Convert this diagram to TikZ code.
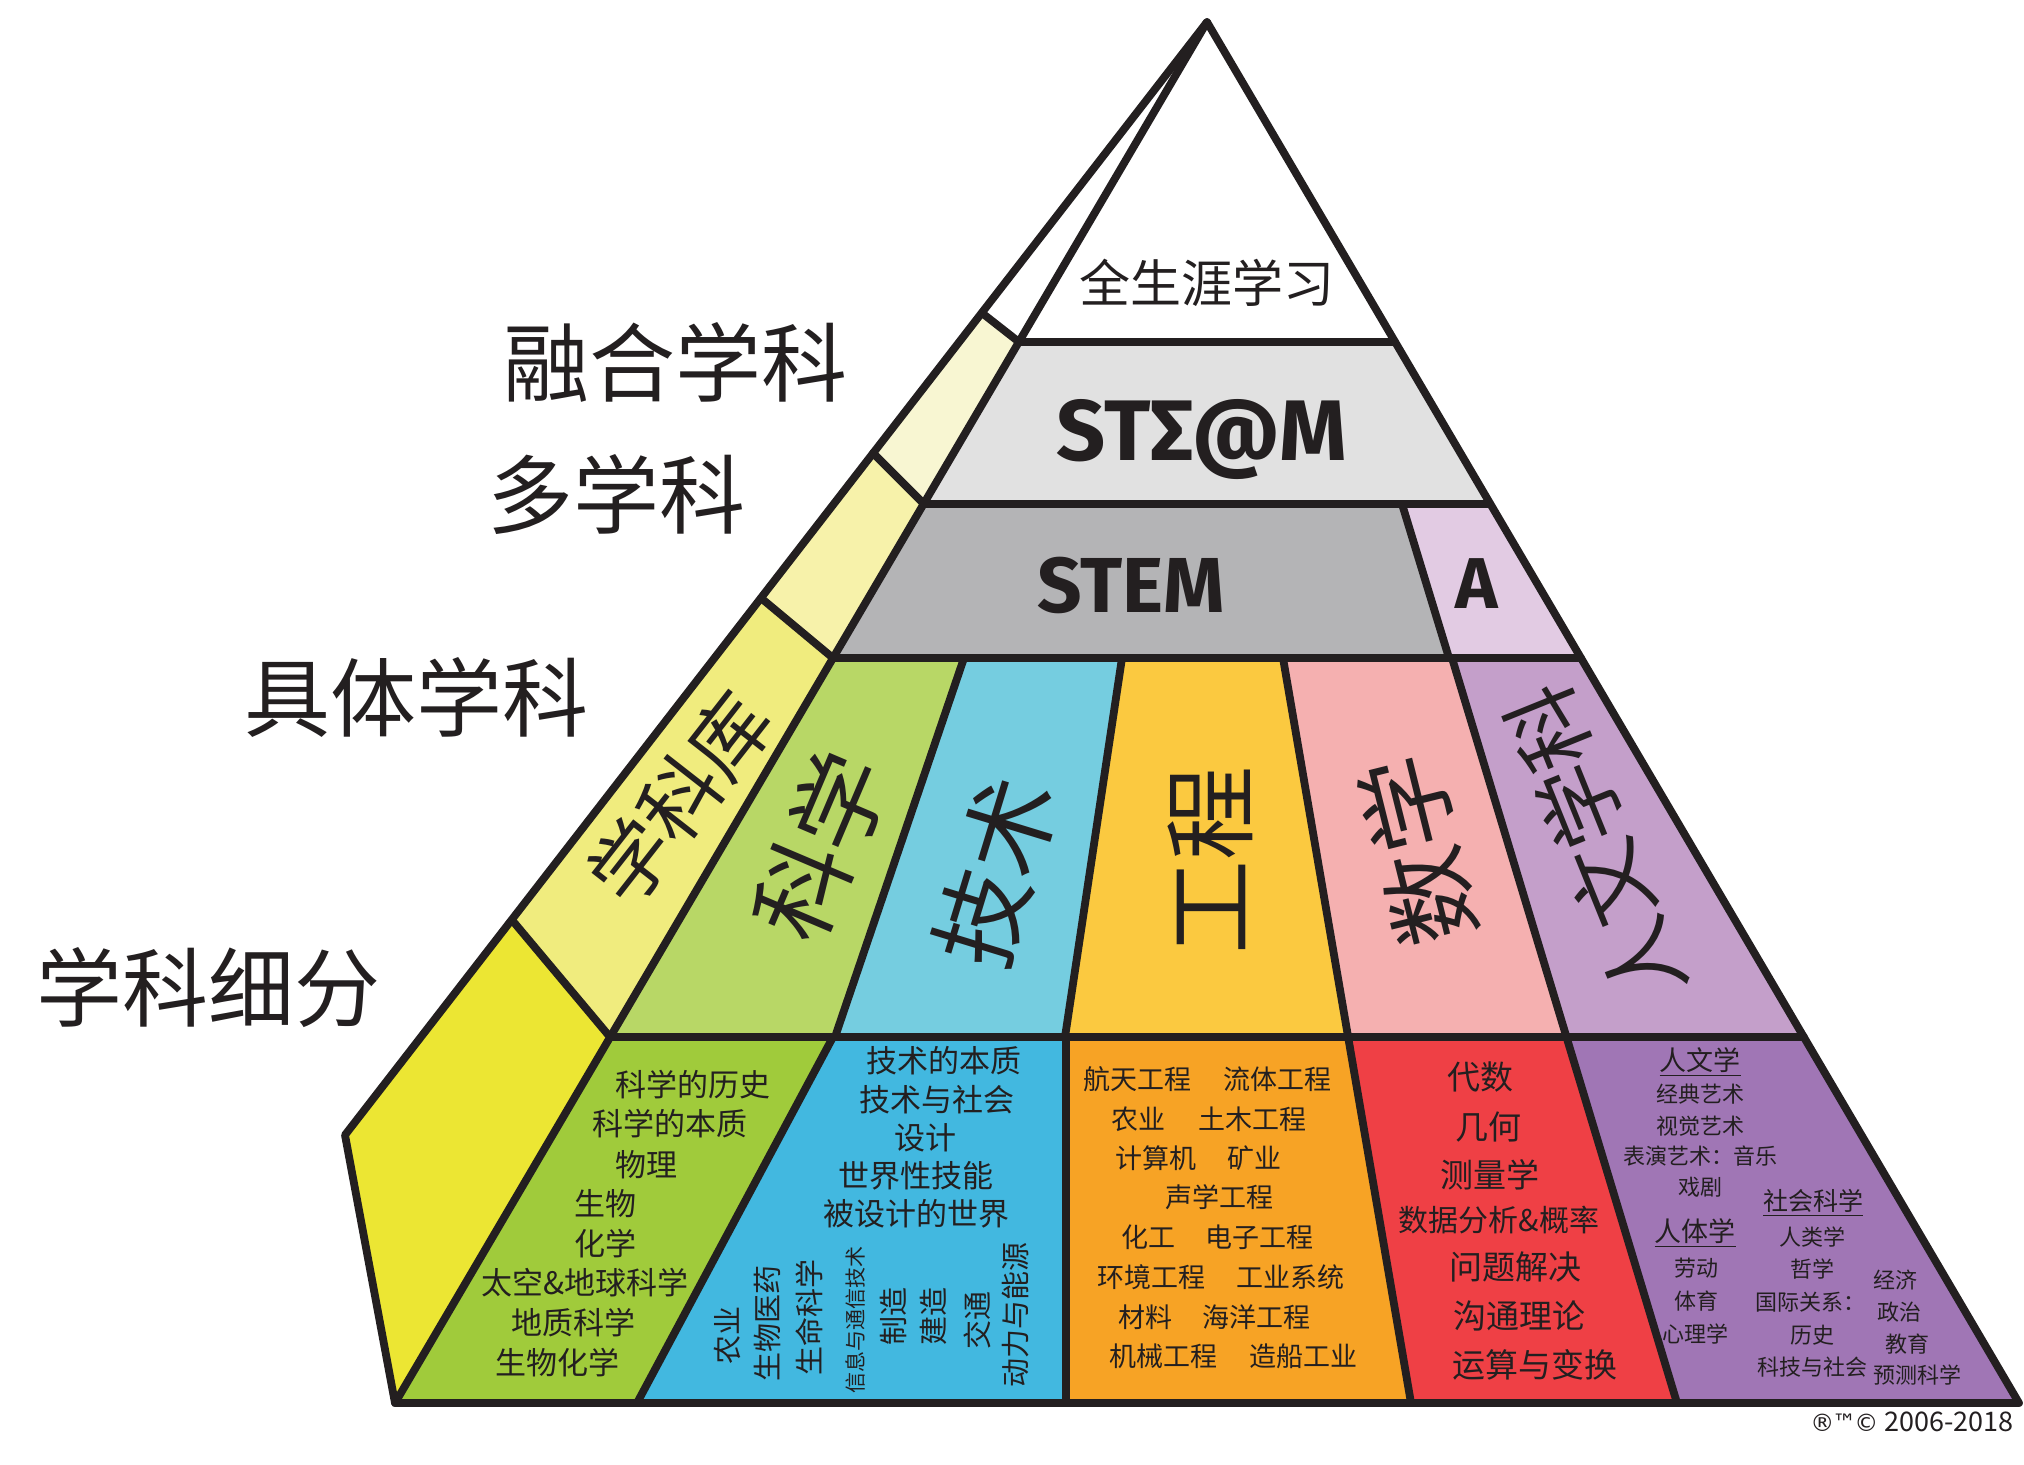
\documentclass[tikz,border=0pt]{standalone}
\usepackage{fontspec}
\setmainfont{Noto Sans CJK SC}
\newfontfamily\stemfont{Fira Sans}
\newfontfamily\symfont{DejaVu Sans}
\newcommand\myfs[1]{\fontsize{#1}{#1}\selectfont}
\definecolor{ink}{HTML}{231F20}
\definecolor{faceA}{HTML}{F8F6D2}
\definecolor{faceB}{HTML}{F7F2AA}
\definecolor{faceC}{HTML}{F0EC7E}
\definecolor{faceD}{HTML}{ECE633}
\definecolor{steamc}{HTML}{E1E1E1}
\definecolor{stemc}{HTML}{B4B4B6}
\definecolor{artc}{HTML}{E2CBE3}
\definecolor{sci}{HTML}{B8D766}
\definecolor{tec}{HTML}{75CDE0}
\definecolor{eng}{HTML}{FBC940}
\definecolor{mat}{HTML}{F5B0B0}
\definecolor{hum}{HTML}{C49FCA}
\definecolor{sciB}{HTML}{A0CB3B}
\definecolor{tecB}{HTML}{42B8E0}
\definecolor{engB}{HTML}{F7A325}
\definecolor{matB}{HTML}{EF4045}
\definecolor{humB}{HTML}{A076B5}
\tikzset{
  edge/.style={draw=ink, line width=3.9pt, line join=round, line cap=round},
  txt/.style={text=ink, inner sep=0pt, align=center},
  biglbl/.style={txt, font=\myfs{43}},
  subj/.style={txt},
  gtxt/.style={txt, font=\myfs{15.5}},
  vtxt/.style={txt, font=\myfs{14.5}, rotate=90},
  otxt/.style={txt, font=\myfs{13.5}},
  rtxt/.style={txt, font=\myfs{16.5}},
  ptxt/.style={txt, font=\myfs{11}},
  phead/.style={txt, font=\myfs{13.5}},
  latin/.style={txt, font=\stemfont\bfseries, anchor=base}
}
\begin{document}
\begin{tikzpicture}[x=0.5pt,y=-0.5pt]
\fill[white] (0,0) rectangle (2024,1464);
\useasboundingbox (0,0) rectangle (2024,1464);

% key points
\coordinate (apex) at (1207,22);
\coordinate (BL) at (395,1403);
\coordinate (BR) at (2019,1403);
\coordinate (LV) at (345,1135);
\coordinate (o1) at (982,313);
\coordinate (o2) at (873,453);
\coordinate (o3) at (761,598);
\coordinate (o4) at (512,920);
\coordinate (i1) at (1019,342);
\coordinate (i2) at (924,504);
\coordinate (i3) at (833,658);
\coordinate (i4) at (610,1037);
\coordinate (r1) at (1395,342);
\coordinate (r2) at (1490,504);
\coordinate (r3) at (1581,658);
\coordinate (r4) at (1804,1037);
\coordinate (a1) at (1402,504);
\coordinate (a2) at (1449,658);
\coordinate (s1t) at (964,658);
\coordinate (s1b) at (835,1037);
\coordinate (s2t) at (1122,658);
\coordinate (s2b) at (1065,1037);
\coordinate (s3t) at (1283,658);
\coordinate (s3b) at (1348,1037);
\coordinate (s4t) at (1452,658);
\coordinate (s4b) at (1566,1037);
\coordinate (b1t) at (833,1037);
\coordinate (b1b) at (637,1403);
\coordinate (b2t) at (1066,1037);
\coordinate (b2b) at (1066,1403);
\coordinate (b3b) at (1411,1403);
\coordinate (b4b) at (1677,1403);

% left face fills
\fill[faceA] (o1) -- (o2) -- (i2) -- (i1) -- cycle;
\fill[faceB] (o2) -- (o3) -- (i3) -- (i2) -- cycle;
\fill[faceC] (o3) -- (o4) -- (i4) -- (i3) -- cycle;
\fill[faceD] (o4) -- (LV) -- (BL) -- (i4) -- cycle;

% front fills
\fill[steamc] (i1) -- (r1) -- (r2) -- (i2) -- cycle;
\fill[stemc] (i2) -- (a1) -- (a2) -- (i3) -- cycle;
\fill[artc] (a1) -- (r2) -- (r3) -- (a2) -- cycle;
\fill[sci] (i3) -- (s1t) -- (s1b) -- (i4) -- cycle;
\fill[tec] (s1t) -- (s2t) -- (s2b) -- (s1b) -- cycle;
\fill[eng] (s2t) -- (s3t) -- (s3b) -- (s2b) -- cycle;
\fill[mat] (s3t) -- (s4t) -- (s4b) -- (s3b) -- cycle;
\fill[hum] (s4t) -- (r3) -- (r4) -- (s4b) -- cycle;
\fill[sciB] (i4) -- (b1t) -- (b1b) -- (BL) -- cycle;
\fill[tecB] (b1t) -- (b2t) -- (b2b) -- (b1b) -- cycle;
\fill[engB] (b2t) -- (s3b) -- (b3b) -- (b2b) -- cycle;
\fill[matB] (s3b) -- (s4b) -- (b4b) -- (b3b) -- cycle;
\fill[humB] (s4b) -- (r4) -- (BR) -- (b4b) -- cycle;

% outlines
\draw[edge] (apex) -- (LV) -- (BL) -- (BR) -- cycle;
\draw[edge] (apex) -- (BL);
\draw[edge] (o1) -- (i1);
\draw[edge] (o2) -- (i2);
\draw[edge] (o3) -- (i3);
\draw[edge] (o4) -- (i4);
\draw[edge] (i1) -- (r1);
\draw[edge] (i2) -- (r2);
\draw[edge] (i3) -- (r3);
\draw[edge] (i4) -- (r4);
\draw[edge] (a1) -- (a2);
\draw[edge] (s1t) -- (s1b);
\draw[edge] (s2t) -- (s2b);
\draw[edge] (s3t) -- (b3b);
\draw[edge] (s4t) -- (b4b);
\draw[edge] (b1t) -- (b1b);
\draw[edge] (b2t) -- (b2b);

% left level labels
\node[biglbl] (lv1) at (675,362) {融合学科};
\node[biglbl] (lv2) at (616,495) {多学科};
\node[biglbl] (lv3) at (416,697) {具体学科};
\node[biglbl] (lv4) at (208,988) {学科细分};

% top layers
\node[txt, font=\myfs{25.5}] (life) at (1207,283) {全生涯学习};
\node[latin, font=\stemfont\bfseries\myfs{43}] (steam) at (1202,460) {STΣ@M};
\node[latin, font=\stemfont\bfseries\myfs{39}] (stem) at (1131,612) {STEM};
\node[latin, font=\stemfont\bfseries\myfs{36}] (art) at (1477,608) {A};

% subject labels
\node[subj, rotate=52, font=\myfs{40}] (kuku) at (680,798) {学科库};
\node[subj, rotate=67, font=\myfs{48}] (kexue) at (820,846) {科学};
\node[subj, rotate=73, font=\myfs{48}] (jishu) at (996,872) {技术};
\node[subj, rotate=90, font=\myfs{47}] (gongcheng) at (1210,860) {工程};
\node[subj, rotate=104, font=\myfs{48}] (shuxue) at (1418,850) {数学};
\node[subj, rotate=112, font=\myfs{42}] (renwen) at (1595,845) {人文学科};

% science details
\node[gtxt] (g1) at (693,1085) {科学的历史};
\node[gtxt] (g2) at (670,1124) {科学的本质};
\node[gtxt] (g3) at (646,1165) {物理};
\node[gtxt] (g4) at (605,1204) {生物};
\node[gtxt] (g5) at (605,1244) {化学};
\node[gtxt] (g6) at (585,1283) {太空\&地球科学};
\node[gtxt] (g7) at (573,1323) {地质科学};
\node[gtxt] (g8) at (557,1363) {生物化学};

% technology details
\node[gtxt] (t1) at (944,1061) {技术的本质};
\node[gtxt] (t2) at (937,1100) {技术与社会};
\node[gtxt] (t3) at (925,1138) {设计};
\node[gtxt] (t4) at (916,1176) {世界性技能};
\node[gtxt] (t5) at (916,1214) {被设计的世界};
\node[vtxt] (v1) at (727,1335) {农业};
\node[vtxt] (v2) at (767,1323) {生物医药};
\node[vtxt] (v3) at (809,1317) {生命科学};
\node[vtxt, font=\myfs{10.5}] (v4) at (855,1320) {信息与通信技术};
\node[vtxt] (v5) at (893,1316) {制造};
\node[vtxt] (v6) at (933,1316) {建造};
\node[vtxt] (v7) at (977,1320) {交通};
\node[vtxt] (v8) at (1015,1315) {动力与能源};

% engineering details
\node[otxt] (e1a) at (1137,1079) {航天工程};
\node[otxt] (e1b) at (1277,1079) {流体工程};
\node[otxt] (e2a) at (1138,1119) {农业};
\node[otxt] (e2b) at (1252,1119) {土木工程};
\node[otxt] (e3a) at (1156,1158) {计算机};
\node[otxt] (e3b) at (1254,1158) {矿业};
\node[otxt] (e4) at (1219,1197) {声学工程};
\node[otxt] (e5a) at (1148,1237) {化工};
\node[otxt] (e5b) at (1259,1237) {电子工程};
\node[otxt] (e6a) at (1151,1277) {环境工程};
\node[otxt] (e6b) at (1290,1277) {工业系统};
\node[otxt] (e7a) at (1145,1317) {材料};
\node[otxt] (e7b) at (1256,1317) {海洋工程};
\node[otxt] (e8a) at (1163,1356) {机械工程};
\node[otxt] (e8b) at (1303,1356) {造船工业};

% math details
\node[rtxt] (m1) at (1480,1077) {代数};
\node[rtxt] (m2) at (1488,1127) {几何};
\node[rtxt] (m3) at (1490,1175) {测量学};
\node[rtxt, font=\myfs{15}] (m4) at (1499,1220) {数据分析\&概率};
\node[rtxt] (m5) at (1515,1267) {问题解决};
\node[rtxt] (m6) at (1519,1316) {沟通理论};
\node[rtxt] (m7) at (1535,1365) {运算与变换};

% humanities details
\node[phead] (h1) at (1700,1062) {\underline{人文学}};
\node[ptxt] (h2) at (1700,1094) {经典艺术};
\node[ptxt] (h3) at (1700,1126) {视觉艺术};
\node[ptxt] (h4) at (1700,1156) {表演艺术：音乐};
\node[ptxt] (h5) at (1700,1187) {戏剧};
\node[phead, font=\myfs{12.5}] (h6) at (1813,1203) {\underline{社会科学}};
\node[phead] (h7) at (1695,1233) {\underline{人体学}};
\node[ptxt] (h8) at (1812,1237) {人类学};
\node[ptxt] (h9) at (1696,1268) {劳动};
\node[ptxt] (h10) at (1812,1269) {哲学};
\node[ptxt] (h11) at (1895,1280) {经济};
\node[ptxt] (h12) at (1696,1301) {体育};
\node[ptxt] (h13) at (1810,1302) {国际关系：};
\node[ptxt] (h14) at (1899,1312) {政治};
\node[ptxt] (h15) at (1695,1334) {心理学};
\node[ptxt] (h16) at (1812,1335) {历史};
\node[ptxt] (h17) at (1907,1344) {教育};
\node[ptxt] (h18) at (1812,1367) {科技与社会};
\node[ptxt] (h19) at (1917,1375) {预测科学};

% copyright
\node[txt, font=\myfs{13.5}, anchor=east] (copy) at (2014,1422) {{\symfont\myfs{12}®\kern-1pt™\kern-1pt©}\kern3pt 2006-2018};
\end{tikzpicture}
\end{document}
